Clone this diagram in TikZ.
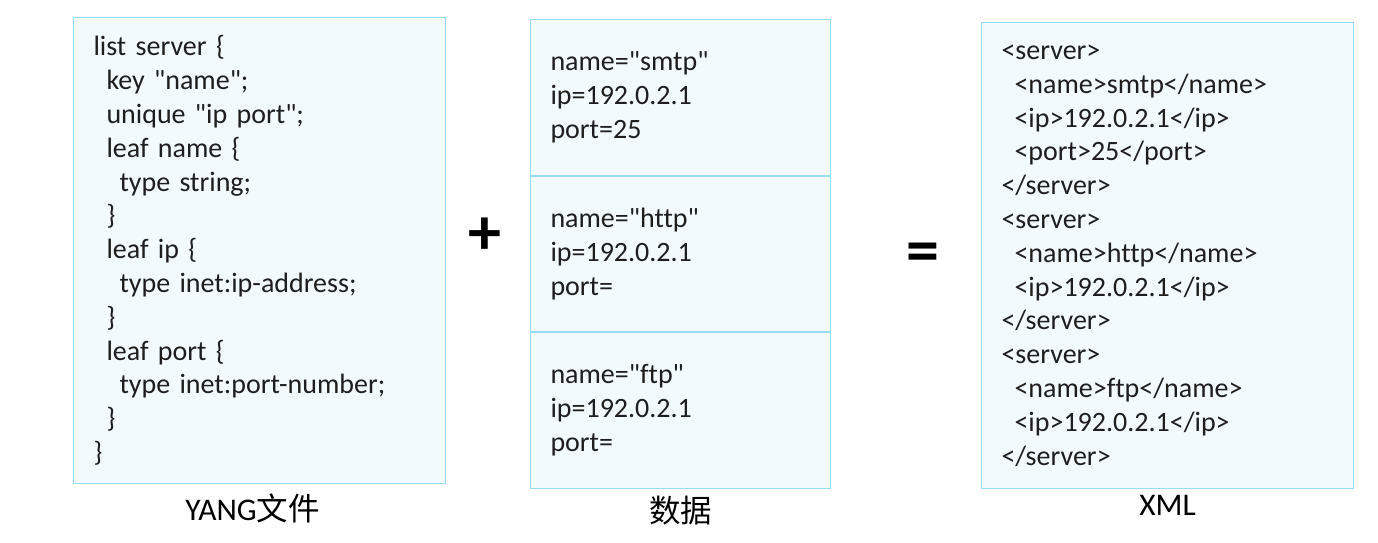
\documentclass[tikz,border=0pt]{standalone}
\usepackage{fontspec}
\setmainfont{Carlito}[Ligatures={TeXOff,NoCommon}]
\newfontfamily\cjk{Noto Sans CJK SC}
\usepackage{xcolor}
\usetikzlibrary{positioning}

\definecolor{boxline}{RGB}{150,220,245}
\definecolor{boxfill}{RGB}{243,250,254}
\definecolor{codetext}{RGB}{30,30,30}
\newcommand{\ind}{\hspace*{13pt}}

\begin{document}
\begin{tikzpicture}[
        x=1pt, y=-1pt,
        every node/.style={font=\fontsize{28}{33.8}\selectfont, text=codetext},
        codebox/.style={rectangle, draw=boxline, fill=boxfill, line width=1pt, inner xsep=20pt, inner ysep=0pt, align=left, anchor=north west},
        databox/.style={codebox, text width=260pt, minimum height=155.5pt},
        caption/.style={font=\fontsize{31.5}{36}\selectfont, text=black},
        sign/.style={font=\fontsize{66}{66}\selectfont\bfseries, text=black, inner sep=0pt},
    ]
        \useasboundingbox (0,0) rectangle (1378,542);

        % Nodes
        \node[codebox, text width=332pt, minimum height=466pt] (yang) at (73,17) {%
            list server \{\\
            \ind key "name";\\
            \ind unique "ip port";\\
            \ind leaf name \{\\
            \ind\ind type string;\\
            \ind \}\\
            \ind leaf ip \{\\
            \ind\ind type inet:ip-address;\\
            \ind \}\\
            \ind leaf port \{\\
            \ind\ind type inet:port-number;\\
            \ind \}\\
            \}};
        \node[databox] (smtp) at (530,19) {name="smtp"\\ ip=192.0.2.1\\ port=25};
        \node[databox, below=0pt of smtp] (http) {name="http"\\ ip=192.0.2.1\\ port=};
        \node[databox, below=0pt of http] (ftp) {name="ftp"\\ ip=192.0.2.1\\ port=};
        \node[codebox, text width=332pt, minimum height=466pt] (xml) at (981,22) {%
            <server>\\
            \ind <name>smtp</name>\\
            \ind <ip>192.0.2.1</ip>\\
            \ind <port>25</port>\\
            </server>\\
            <server>\\
            \ind <name>http</name>\\
            \ind <ip>192.0.2.1</ip>\\
            </server>\\
            <server>\\
            \ind <name>ftp</name>\\
            \ind <ip>192.0.2.1</ip>\\
            </server>};

        \node[sign] (plus) at (485,236) {+};
        \node[sign] (equals) at (923,258) {=};

        % Captions
        \node[caption, below=6pt of yang, xshift=-7pt] (yanglabel) {YANG{\cjk 文件}};
        \node[caption, below=4pt of ftp] (datalabel) {{\cjk 数据}};
        \node[caption, below=3pt of xml] (xmllabel) {XML};

    \end{tikzpicture}
\end{document}
